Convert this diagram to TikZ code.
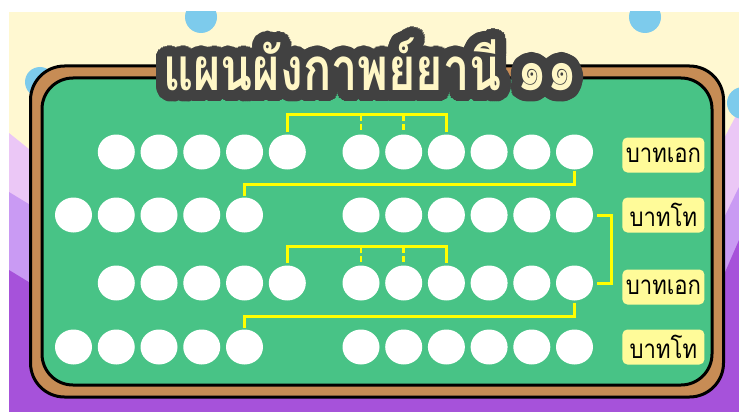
\documentclass[tikz,border=0pt]{standalone}
\usepackage{fontspec}
\newfontfamily\thaifont[Script=Thai]{Loma}
\usetikzlibrary{shapes.geometric, positioning}
\definecolor{bdGreen}{HTML}{48C386}
\definecolor{bdBrown}{HTML}{C78C55}
\definecolor{bdCream}{HTML}{FFF8D1}
\definecolor{bdSky}{HTML}{7DCBEC}
\definecolor{bdLilac}{HTML}{EBC7F6}
\definecolor{bdViolet}{HTML}{C99AF3}
\definecolor{bdPurple}{HTML}{A652DA}
\definecolor{bdYellow}{HTML}{FFFF00}
\definecolor{bdTag}{HTML}{FFFB99}
\definecolor{bdInk}{HTML}{414141}
\definecolor{bdTitle}{HTML}{FFF7C6}

\begin{document}
\begin{tikzpicture}[x=1pt, y=-1pt,
  syl/.style={ellipse, fill=white, minimum width=37pt, minimum height=35pt, inner sep=0pt},
  lnk/.style={bdYellow, line width=3pt},
  tick/.style={bdYellow, line width=2.5pt, dash pattern=on 6pt off 3pt},
  tag/.style={fill=bdTag, rounded corners=5pt, minimum width=82pt, minimum height=35pt, inner sep=0pt, font=\thaifont\fontsize{26}{28}\selectfont},
  ttl/.style={anchor=base, font=\thaifont\bfseries\fontsize{60}{66}\selectfont}]
  \useasboundingbox (0,0) rectangle (739,412);
  \fill[white] (0,0) rectangle (739,412);
  % background
  \begin{scope}
    \clip (9,12) rectangle (739,412);
    \fill[bdCream] (9,12) rectangle (739,412);
    \fill[bdLilac] (9,133) -- (60,174) -- (60,412) -- (9,412) -- cycle;
    \fill[bdViolet] (9,192) -- (60,223) -- (60,412) -- (9,412) -- cycle;
    \fill[bdPurple] (9,270) -- (60,301) -- (60,412) -- (9,412) -- cycle;
    \fill[bdLilac] (739,110) -- (700,184) -- (700,412) -- (739,412) -- cycle;
    \fill[bdViolet] (739,187) -- (700,267) -- (700,412) -- (739,412) -- cycle;
    \fill[bdPurple] (739,240) -- (700,330) -- (700,412) -- (739,412) -- cycle;
    \fill[bdPurple] (9,370) rectangle (739,412);
    \fill[bdSky] (201,17) circle (16);
    \fill[bdSky] (645,17) circle (16);
    \fill[bdSky] (40,82) circle (15);
    \fill[bdSky] (743,103) circle (16);
  \end{scope}
  % board
  \draw[line width=3pt, fill=bdBrown, rounded corners=34pt] (30.5,66) rectangle (723.5,397);
  \draw[line width=3pt, fill=bdGreen, rounded corners=31pt] (42,78) rectangle (712,385);
  % title
  \foreach \a in {0,10,...,350}
    \path (370,91) ++(\a:11) node[ttl, text=bdInk] (halo\a) {\scalebox{0.78}[1]{แผนผังกาพย์ยานี ๑๑}};
  \foreach \a in {0,20,...,340}
    \path (370,91) ++(\a:5.5) node[ttl, text=bdInk] (core\a) {\scalebox{0.78}[1]{แผนผังกาพย์ยานี ๑๑}};
  \node[ttl, text=bdTitle] (title) at (370,91) {\scalebox{0.78}[1]{แผนผังกาพย์ยานี ๑๑}};
  % syllables
  \foreach \r/\y/\s in {1/152/116.3, 2/215/73.5, 3/283/116.3, 4/347/73.5} {
    \foreach \k in {1,...,5}
      \node[syl] (r\r-\k) at ({\s+42.75*(\k-1)},\y) {};
    \foreach \k in {6,...,11}
      \node[syl] (r\r-\k) at ({361+42.7*(\k-6)},\y) {};
  }
  % rhyme links
  \draw[lnk, shorten >=2pt] (r1-5.north) ++(0,-2) -- ++(0,-17.5) -| (r1-8.north);
  \draw[tick, shorten >=3pt] (r1-6.north) ++(0,-19.5) -- (r1-6.north);
  \draw[tick, shorten >=3pt] (r1-7.north) ++(0,-19.5) -- (r1-7.north);
  \draw[lnk, shorten >=1pt] (r1-11.south) ++(0,1) -- ++(0,14) -| (r2-5.north);
  \draw[lnk] (r2-11.east) ++(4,0) -- ++(14,0) |- ([xshift=4pt]r3-11.east);
  \draw[lnk, shorten >=2pt] (r3-5.north) ++(0,-2) -- ++(0,-16.5) -| (r3-8.north);
  \draw[tick, shorten >=3pt] (r3-6.north) ++(0,-18.5) -- (r3-6.north);
  \draw[tick, shorten >=3pt] (r3-7.north) ++(0,-18.5) -- (r3-7.north);
  \draw[lnk, shorten >=1pt] (r3-11.south) ++(0,2) -- ++(0,14) -| (r4-5.north);
  % verse labels
  \node[tag, right=29pt of r1-11, yshift=-3pt] (t1) {\scalebox{0.85}[1]{บาทเอก}};
  \node[tag, right=29pt of r2-11] (t2) {\scalebox{0.85}[1]{บาทโท}};
  \node[tag, right=29pt of r3-11, yshift=-4pt] (t3) {\scalebox{0.85}[1]{บาทเอก}};
  \node[tag, right=29pt of r4-11] (t4) {\scalebox{0.85}[1]{บาทโท}};
\end{tikzpicture}
\end{document}
